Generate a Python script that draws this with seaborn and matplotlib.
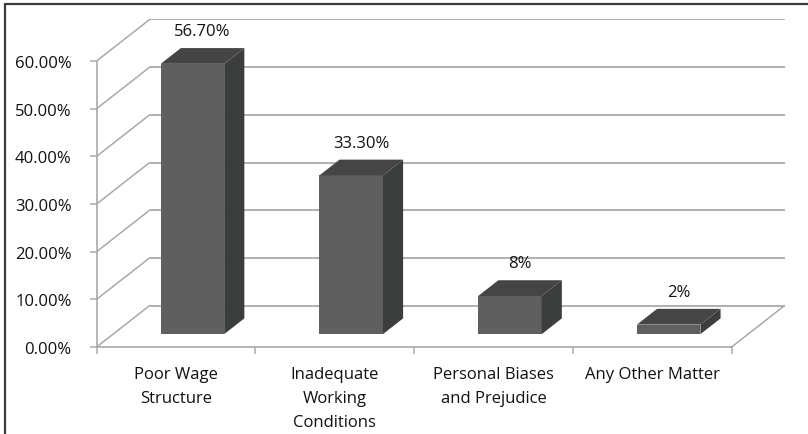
import numpy as np
import pandas as pd
import matplotlib
matplotlib.use("Agg")
import matplotlib.pyplot as plt
from matplotlib.patches import Polygon
import seaborn as sns

# Survey results: reasons reported
categories = ["Poor Wage\nStructure", "Inadequate\nWorking\nConditions",
              "Personal Biases\nand Prejudice", "Any Other Matter"]
values = [56.7, 33.3, 8.0, 2.0]
value_labels = ["56.70%", "33.30%", "8%", "2%"]
y_ticks = [0, 10, 20, 30, 40, 50, 60]

sns.set_theme(style="white")
plt.rcParams["font.family"] = ["Open Sans", "DejaVu Sans"]

FRONT = "#5f5f5f"
SIDE = "#3c3e3d"
TOP = "#454545"
GRID = "#a9a9a9"
TEXT = "#111111"
FS = 12

# oblique projection of the depth axis, in data units (category, percent)
DX, DY = 0.334, 8.7
D0, D1 = 0.31, 0.69      # bar occupies this slice of the depth
BAR_W = 0.4
n = len(categories)

fig = plt.figure(figsize=(8.08, 4.35), dpi=100)
ax = fig.add_axes([0.1196, 0.2, 0.8515, 0.7529])

# walls and floor
for v in y_ticks:
    ax.plot([-0.5 + DX, n - 0.5 + DX], [v + DY, v + DY], color=GRID, lw=1.3,
            solid_capstyle="butt", zorder=1)
    ax.plot([-0.5, -0.5 + DX], [v, v + DY], color=GRID, lw=1.1, zorder=1)
ax.plot([n - 0.5, n - 0.5 + DX], [0, DY], color=GRID, lw=1.1, zorder=1)

# front faces of the columns
df = pd.DataFrame({"category": categories, "value": values})
sns.barplot(data=df, x="category", y="value", color=FRONT, saturation=1,
            width=BAR_W, ax=ax, zorder=3)
for p in ax.patches:
    p.set_x(p.get_x() + DX * D0)
    p.set_y(DY * D0)
    p.set_facecolor(FRONT)
    p.set_edgecolor("none")
    p.set_clip_on(False)

ddx, ddy = DX * (D1 - D0), DY * (D1 - D0)
for i, v in enumerate(values):
    x0 = i - BAR_W / 2 + DX * D0
    x1 = x0 + BAR_W
    yb = DY * D0
    yt = yb + v
    side = Polygon([(x1, yb), (x1 + ddx, yb + ddy), (x1 + ddx, yt + ddy), (x1, yt)],
                   closed=True, facecolor=SIDE, edgecolor="none", zorder=3)
    top = Polygon([(x0, yt), (x1, yt), (x1 + ddx, yt + ddy), (x0 + ddx, yt + ddy)],
                  closed=True, facecolor=TOP, edgecolor="none", zorder=3)
    ax.add_patch(side)
    ax.add_patch(top)
    ax.annotate(value_labels[i], xy=(x0 + BAR_W / 2 + ddx / 2, yt + ddy / 2),
                xytext=(0, 12), textcoords="offset points", ha="center",
                va="bottom", fontsize=FS, color=TEXT, annotation_clip=False)

ax.set_xlim(-0.5, n - 0.5 + DX)
ax.set_ylim(0, y_ticks[-1] + DY)

# axes
for s in ["top", "right"]:
    ax.spines[s].set_visible(False)
ax.spines["left"].set_bounds(0, y_ticks[-1])
ax.spines["bottom"].set_bounds(-0.5, n - 0.5)
for s in ["left", "bottom"]:
    ax.spines[s].set_color(GRID)
    ax.spines[s].set_linewidth(1.2)

ax.set_yticks(y_ticks)
ax.set_yticklabels([f"{t:.2f}%" for t in y_ticks])
ax.tick_params(axis="y", direction="out", length=5, width=1.1, color=GRID,
               labelsize=FS, labelcolor=TEXT, pad=13, left=True)
ax.set_xticks(np.arange(-0.5, n, 1.0))
ax.set_xticklabels([])
ax.set_xticks(np.arange(n), labels=categories, minor=True)
ax.tick_params(axis="x", which="major", direction="out", length=5, width=1.1,
               color=GRID, bottom=True)
ax.tick_params(axis="x", which="minor", length=0, labelsize=FS,
               labelcolor=TEXT, pad=14)
for lab in ax.get_xticklabels(minor=True):
    lab.set_linespacing(1.65)
ax.set_xlabel("")
ax.set_ylabel("")

# chart frame
fig.add_artist(plt.Line2D([0.006, 0.006], [0, 0.988], transform=fig.transFigure,
                          color="#3a3a3a", lw=1.6))
fig.add_artist(plt.Line2D([0.006, 1.0], [0.988, 0.988], transform=fig.transFigure,
                          color="#3a3a3a", lw=1.6))

fig.savefig("out.png", dpi=100, facecolor="white")
